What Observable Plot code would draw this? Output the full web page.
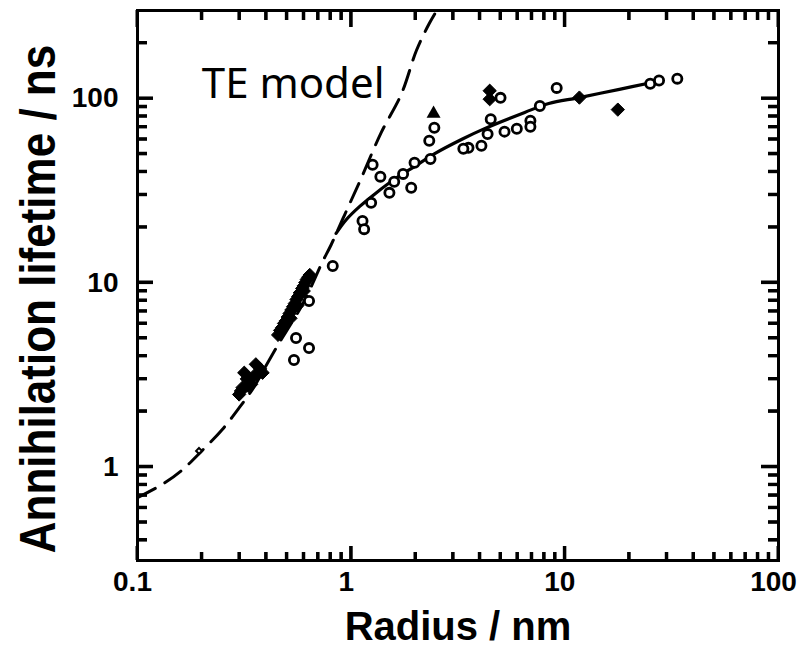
<!DOCTYPE html>
<html><head><meta charset="utf-8">
<script src="https://cdn.jsdelivr.net/npm/d3@7"></script>
<script src="https://cdn.jsdelivr.net/npm/@observablehq/plot@0.6"></script>
<style>body{margin:0;background:#fff;}</style>
</head><body><div id="chart"></div>
<script>
// ---- data ----
const xMajor = [0.1, 1, 10, 100];
const xTickLabels = ["0.1", "1", "10", "100"];
const xMinor = [0.2,0.3,0.4,0.5,0.6,0.7,0.8,0.9,2,3,4,5,6,7,8,9,20,30,40,50,60,70,80,90];
const yMajor = [1, 10, 100];
const yTickLabels = ["1", "10", "100"];
const yMinor = [0.4,0.5,0.6,0.7,0.8,0.9,2,3,4,5,6,7,8,9,20,30,40,50,60,70,80,90,200];

// TE model (dashed)
const teR   = [0.1, 0.13, 0.16, 0.2, 0.25, 0.3, 0.35, 0.4, 0.45, 0.5, 0.58, 0.65, 0.73, 0.805, 0.93, 1.11, 1.38, 1.72, 2.02, 2.32, 2.56];
const teTau = [0.68, 0.80, 0.95, 1.22, 1.6, 2.1, 2.7, 3.55, 4.5, 5.5, 7.3, 9.5, 12.8, 16, 23.2, 36.5, 65, 106, 182, 255, 310];

// extended model (solid)
const fitR   = [0.85, 0.95, 1.1, 1.3, 1.6, 2.0, 2.45, 3.3, 4.21, 6.49, 8.41, 11.7, 18, 25.6];
const fitTau = [18.5, 22, 26, 30.5, 36.5, 43, 50, 60, 68.5, 83.9, 93.8, 101, 112, 122];

// open circles
const circleR   = [9.16, 25.1, 27.6, 33.6, 7.64, 6.9, 6.9, 5.96, 5.22, 5.0, 4.5, 4.35, 4.07, 3.54, 3.35, 2.35, 2.32, 2.45, 1.98, 1.91, 1.75, 1.26, 1.37, 1.59, 1.51, 1.24, 1.13, 1.15, 0.82, 0.635, 0.552, 0.635, 0.54];
const circleTau = [114, 120, 125, 128, 91, 75.7, 70.2, 68.4, 66, 100.7, 77, 64, 55.3, 53.9, 53.3, 46.9, 58.9, 69.3, 44.7, 32.7, 38.9, 43.6, 37.6, 35.3, 30.7, 27.1, 21.6, 19.5, 12.3, 7.94, 5.0, 4.41, 3.8];

// filled diamonds
const diamondR   = [11.7, 17.7, 4.45, 4.45,
  0.455, 0.465, 0.475, 0.485, 0.495, 0.505, 0.515, 0.525, 0.535, 0.545, 0.555, 0.565, 0.575, 0.59, 0.60, 0.61, 0.62, 0.63, 0.64, 0.52, 0.56, 0.60,
  0.299, 0.305, 0.31, 0.316, 0.325, 0.34, 0.35, 0.358, 0.365, 0.375, 0.385, 0.33];
const diamondTau = [101, 86.9, 110, 99,
  5.2, 5.5, 5.7, 6.0, 6.2, 6.5, 6.8, 7.1, 7.4, 7.7, 8.1, 8.4, 8.8, 9.3, 9.6, 10.0, 10.4, 10.7, 11.0, 6.4, 7.5, 9.0,
  2.47, 2.58, 2.69, 3.24, 3.0, 2.8, 3.1, 3.6, 3.18, 3.4, 3.24, 2.75];

// filled triangle
const triangleR = [2.43];
const triangleTau = [82.6];

// small marker on the TE curve
const smallR = [0.194];
const smallTau = [1.22];

const annotation = {label: "TE model", r: 0.2, tau: 100};

// ---- build tables ----
const zip = (xs, ys) => xs.map((x, i) => ({r: x, tau: ys[i]}));
const teData = zip(teR, teTau);
const fitData = zip(fitR, fitTau);
const circles = zip(circleR, circleTau);
const diamonds = zip(diamondR, diamondTau);
const triangles = zip(triangleR, triangleTau);
const smalls = zip(smallR, smallTau);

const W = 799, H = 651, mL = 137, mR = 21, mT = 10, mB = 91;
const innerW = W - mL - mR, innerH = H - mT - mB;
const tk = {stroke: "black", strokeWidth: 3};

const plot = Plot.plot({
  width: W, height: H,
  marginLeft: mL, marginRight: mR, marginTop: mT, marginBottom: mB,
  x: {type: "log", domain: [0.1, 100]},
  y: {type: "log", domain: [0.31, 300]},
  style: {fontFamily: "'Liberation Sans', Arial, Helvetica, sans-serif", fontSize: "28px", fontWeight: "bold"},
  marks: [
    Plot.frame({stroke: "black", strokeWidth: 3}),
    Plot.line(teData, {x: "r", y: "tau", stroke: "black", strokeWidth: 3, strokeDasharray: "20,11", curve: "catmull-rom", clip: true}),
    Plot.line(fitData, {x: "r", y: "tau", stroke: "black", strokeWidth: 3.2, curve: "catmull-rom"}),
    Plot.dot(circles, {x: "r", y: "tau", r: 4.6, stroke: "black", strokeWidth: 2.8, fill: "white"}),
    Plot.dot(diamonds, {x: "r", y: "tau", r: 6, symbol: "diamond2", fill: "black", stroke: "black", strokeWidth: 1}),
    Plot.dot(triangles, {x: "r", y: "tau", r: 5.2, symbol: "triangle", fill: "black"}),
    Plot.dot(smalls, {x: "r", y: "tau", r: 2.6, symbol: "diamond2", fill: "white", stroke: "black", strokeWidth: 2}),
    Plot.text([annotation], {x: "r", y: "tau", text: "label", textAnchor: "start", lineAnchor: "bottom", fontSize: 42, fontWeight: "normal", fontFamily: "'Noto Sans', 'DejaVu Sans', sans-serif", fill: "black"}),
    // inward ticks on all four sides
    Plot.tickX(xMajor, {x: d => d, insetTop: innerH - 14, ...tk}),
    Plot.tickX(xMinor, {x: d => d, insetTop: innerH - 8, ...tk}),
    Plot.tickX(xMajor, {x: d => d, insetBottom: innerH - 17, ...tk}),
    Plot.tickX(xMinor, {x: d => d, insetBottom: innerH - 10, ...tk}),
    Plot.tickY(yMajor, {y: d => d, insetRight: innerW - 16, ...tk}),
    Plot.tickY(yMinor, {y: d => d, insetRight: innerW - 10, ...tk}),
    Plot.tickY(yMajor, {y: d => d, insetLeft: innerW - 17, ...tk}),
    Plot.tickY(yMinor, {y: d => d, insetLeft: innerW - 10, ...tk}),
    Plot.axisX(xMajor, {anchor: "bottom", tickSize: 0, tickPadding: 11, dx: -5, tickFormat: d => xTickLabels[xMajor.indexOf(d)], label: null}),
    Plot.axisY(yMajor, {anchor: "left", tickSize: 0, tickPadding: 19, tickFormat: d => yTickLabels[yMajor.indexOf(d)], label: null})
  ]
});

// extra path-based inward ticks placed with the plot's own scales
const sx = plot.scale("x"), sy = plot.scale("y");
const svg = d3.select(plot);
const x0 = mL, x1 = W - mR, y0 = mT, y1 = H - mB;
let d = "";
const addX = (vals, len, bottom) => vals.forEach(v => {
  const px = sx.apply(v);
  d += bottom ? `M${px},${y1}V${y1 - len}` : `M${px},${y0}V${y0 + len}`;
});
const addY = (vals, len, left) => vals.forEach(v => {
  const py = sy.apply(v);
  d += left ? `M${x0},${py}H${x0 + len}` : `M${x1},${py}H${x1 - len}`;
});
addX(xMajor, 14, true); addX(xMinor, 8, true);
addX(xMajor, 17, false); addX(xMinor, 10, false);
addY(yMajor, 16, true); addY(yMinor, 10, true);
addY(yMajor, 17, false); addY(yMinor, 10, false);
svg.append("path").attr("d", d).attr("fill", "none").attr("stroke", "black").attr("stroke-width", 3);

svg.append("text")
  .attr("x", 458).attr("y", 640)
  .attr("text-anchor", "middle")
  .style("font-family", "'Liberation Sans', Arial, sans-serif")
  .style("font-size", "40px").style("font-weight", "bold")
  .attr("fill", "black")
  .text("Radius / nm");
svg.append("text")
  .attr("transform", "translate(55,299) rotate(-90) scale(1,1.15)")
  .attr("text-anchor", "middle")
  .style("font-family", "'Liberation Sans', Arial, sans-serif")
  .style("font-size", "44px").style("font-weight", "bold")
  .attr("fill", "black")
  .text("Annihilation lifetime / ns");

document.getElementById("chart").appendChild(plot);
</script>
</body></html>
